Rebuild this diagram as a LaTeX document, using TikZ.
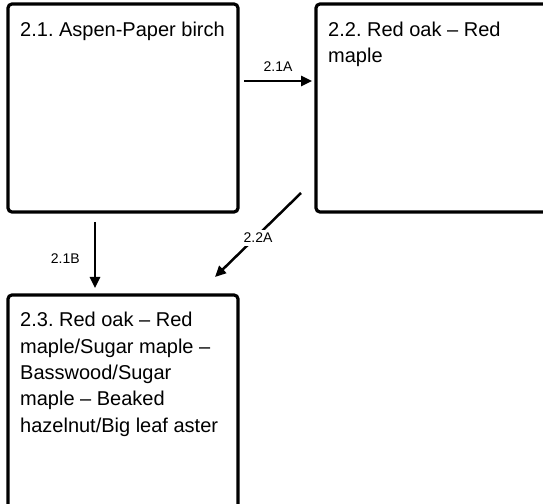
\documentclass[tikz,border=0pt]{standalone}
\usepackage{fontspec}
\setmainfont{Liberation Sans}
\usetikzlibrary{arrows.meta}
\usetikzlibrary{positioning}
\frenchspacing

\begin{document}
\begin{tikzpicture}[x=1pt,y=1pt,
		box/.style = {draw, line width=3.2pt, rounded corners=4pt, outer sep=0pt, inner sep=0pt, minimum width=230pt, minimum height=208pt},
		boxtext/.style = {anchor=north west, inner sep=0pt, align=left, font=\fontsize{20}{26.4}\selectfont},
		flow/.style = {line width=2.5pt, -{Triangle[length=11pt,width=10pt]}},
		tag/.style = {font=\fontsize{14}{16}\selectfont, inner sep=1pt}]
				\clip (0,0) rectangle (543,503);
				% the three stands
				\node[box] (B21) at (123,395) {};
				\node[box, minimum width=250pt] (B22) at (441,395) {};
				\node[box, minimum height=228pt] (B23) at (123,94) {};
				\node[boxtext] (T21) at ([xshift=12pt,yshift=-17.5pt]B21.north west) {2.1. Aspen-Paper birch};
				\node[boxtext] (T22) at ([xshift=12pt,yshift=-17.5pt]B22.north west) {2.2. Red oak -- Red\\maple};
				\node[boxtext] (T23) at ([xshift=12pt,yshift=-17pt]B23.north west) {2.3. Red oak -- Red\\maple/Sugar maple --\\Basswood/Sugar\\maple -- Beaked\\hazelnut/Big leaf aster};
				% transitions
				\draw [flow] ([xshift=6pt,yshift=27pt]B21.east) -- node[tag,above=7pt] {2.1A} ([xshift=-4pt,yshift=27pt]B22.west);
				\draw [flow] ([xshift=-28pt,yshift=-10pt]B21.south) -- node[tag,left=13pt,yshift=-4pt] {2.1B} ([xshift=-28pt,yshift=7pt]B23.north);
				\draw [flow] ([xshift=-15pt,yshift=19pt]B22.south west) -- node[tag,fill=white,inner sep=3pt,yshift=-3pt] {2.2A} ([xshift=-23pt,yshift=18pt]B23.north east);
			\end{tikzpicture}
\end{document}
